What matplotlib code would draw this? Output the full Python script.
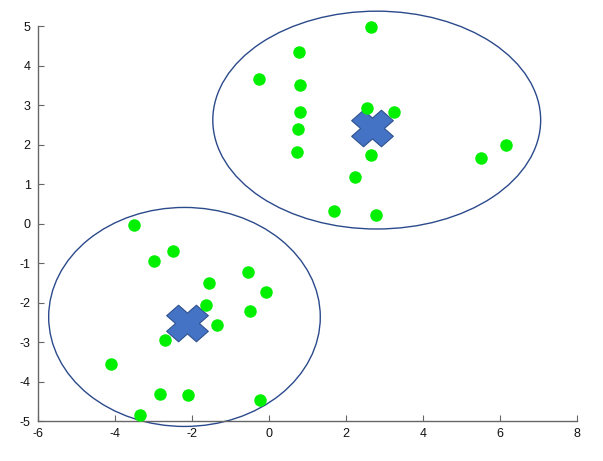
import matplotlib
matplotlib.use("Agg")
import matplotlib.pyplot as plt
import numpy as np
from matplotlib.patches import Ellipse
from matplotlib.path import Path

plt.rcParams['font.family'] = ['Liberation Sans', 'DejaVu Sans']
plt.rcParams['axes.unicode_minus'] = False

# Cluster 1 (upper right)
c1_x = [2.66, 0.77, -0.26, 0.81, 0.81, 0.76, 0.73, 2.56, 3.26, 2.66, 2.23, 1.68, 2.78, 5.50, 6.16]
c1_y = [4.97, 4.35, 3.66, 3.51, 2.83, 2.39, 1.80, 2.93, 2.83, 1.73, 1.17, 0.33, 0.21, 1.65, 2.00]
# Cluster 2 (lower left)
c2_x = [-3.50, -2.50, -2.98, -0.53, -1.56, -0.07, -1.62, -0.49, -1.34, -2.70, -4.11, -2.82, -2.11, -0.24, -3.34]
c2_y = [-0.03, -0.70, -0.94, -1.23, -1.49, -1.74, -2.07, -2.21, -2.56, -2.95, -3.56, -4.30, -4.33, -4.45, -4.85]
# Centroids
cent_x = [2.68, -2.13]
cent_y = [2.42, -2.52]
# Ellipses: center x, center y, width, height
ell_cx = [2.80, -2.19]
ell_cy = [2.62, -2.36]
ell_w = [8.51, 7.05]
ell_h = [5.51, 5.54]

xticks = [-6, -4, -2, 0, 2, 4, 6, 8]
yticks = [-5, -4, -3, -2, -1, 0, 1, 2, 3, 4, 5]

# thick cross marker, slightly wider than tall
w = 0.40
plus = np.array([(w, w), (w, 1), (-w, 1), (-w, w), (-1, w), (-1, -w), (-w, -w), (-w, -1),
                 (w, -1), (w, -w), (1, -w), (1, w), (w, w)])
ang = np.pi / 4
rot = np.array([[np.cos(ang), -np.sin(ang)], [np.sin(ang), np.cos(ang)]])
verts = plus @ rot.T
verts[:, 0] *= 1.14
codes = [Path.MOVETO] + [Path.LINETO] * (len(verts) - 2) + [Path.CLOSEPOLY]
cross = Path(verts, codes)

fig = plt.figure(figsize=(6.03, 4.61), dpi=100)
ax = fig.add_axes([0.0625, 0.0861, 0.8945, 0.8575])

for cx, cy, ew, eh in zip(ell_cx, ell_cy, ell_w, ell_h):
    ax.add_patch(Ellipse((cx, cy), ew, eh, fill=False, edgecolor='#2b4a8b', linewidth=1.0,
                         zorder=2, clip_on=False))

ax.plot(cent_x, cent_y, linestyle='none', marker=cross, color='#4472c4', markeredgecolor='#2f528f',
        markeredgewidth=0.8, markersize=30, zorder=3)
ax.plot(c1_x, c1_y, 'o', color='#00f000', markersize=9, markeredgewidth=0, zorder=4, clip_on=False)
ax.plot(c2_x, c2_y, 'o', color='#00f000', markersize=9, markeredgewidth=0, zorder=4, clip_on=False)

ax.set_xlim(-6, 8)
ax.set_ylim(-5, 5)
ax.set_xticks(xticks)
ax.set_yticks(yticks)
ax.spines['top'].set_visible(False)
ax.spines['right'].set_visible(False)
for s in ['left', 'bottom']:
    ax.spines[s].set_color('#666666')
    ax.spines[s].set_linewidth(1.0)
ax.tick_params(direction='in', length=4, color='#666666', labelsize=9, labelcolor='#111111', pad=5)

fig.savefig('out.png', dpi=100)
